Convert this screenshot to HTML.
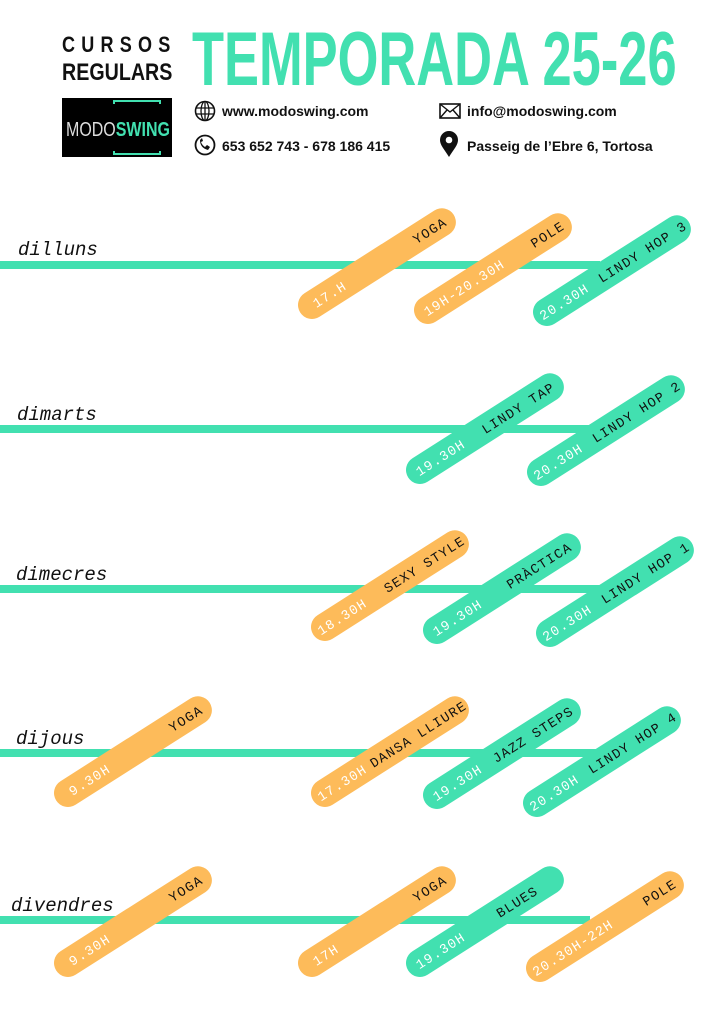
<!DOCTYPE html>
<html><head><meta charset="utf-8"><style>
html,body{margin:0;padding:0;background:#fff;}
svg{display:block;}
</style></head><body>
<svg width="724" height="1024" viewBox="0 0 724 1024" xmlns="http://www.w3.org/2000/svg">
<rect width="724" height="1024" fill="#fff"/>
<!-- header -->
<text x="62" y="52" font-family="Liberation Sans, sans-serif" font-weight="bold" font-size="22" letter-spacing="7.6" fill="#111" transform="translate(62,0) scale(0.82,1) translate(-62,0)">CURSOS</text>
<text x="62" y="80" font-family="Liberation Sans, sans-serif" font-weight="bold" font-size="24" fill="#111" transform="translate(62,0) scale(0.82,1) translate(-62,0)">REGULARS</text>
<text x="192" y="85" font-family="Liberation Sans, sans-serif" font-weight="bold" font-size="76" fill="#42e0b0" transform="translate(192,0) scale(0.69,1) translate(-192,0)">TEMPORADA 25-26</text>
<rect x="62" y="98" width="110" height="59" fill="#000"/>
<path d="M114 104 V101 H160 V104 M114 151 V154 H160 V151" stroke="#42e0b0" stroke-width="2" fill="none"/>
<text x="66" y="136" font-family="Liberation Sans, sans-serif" font-size="20" fill="#ddd" transform="translate(66,0) scale(0.8,1) translate(-66,0)">MODO<tspan fill="#42e0b0" font-weight="bold">SWING</tspan></text>
<!-- icons -->
<circle cx="205" cy="111" r="9.5" fill="none" stroke="#111" stroke-width="1.6"/>
<ellipse cx="205" cy="111" rx="4" ry="9.5" fill="none" stroke="#111" stroke-width="1.3"/>
<path d="M196 108H214M196 114H214M205 101.5V120.5" stroke="#111" stroke-width="1.3"/>
<circle cx="205" cy="145" r="9.5" fill="none" stroke="#111" stroke-width="1.8"/>
<path d="M200 140 q0 8 8 10 l2 -3 l-3 -2 l-2 2 q-3 -2 -4 -5 l2 -1 l-1 -3z" fill="#111"/>
<rect x="440" y="104" width="20" height="14" fill="none" stroke="#111" stroke-width="1.6"/>
<path d="M440 104 L450 112 L460 104 M440 118 L447 110 M460 118 L453 110" stroke="#111" stroke-width="1.4" fill="none"/>
<path d="M449 157 C444 149 440 145 440 140 a9 9 0 0 1 18 0 C458 145 454 149 449 157z" fill="#111"/>
<circle cx="449" cy="140" r="3.3" fill="#fff"/>
<g font-family="Liberation Sans, sans-serif" font-weight="bold" font-size="14" fill="#111">
<text x="222" y="116">www.modoswing.com</text>
<text x="222" y="151">653 652 743 - 678 186 415</text>
<text x="467" y="116">info@modoswing.com</text>
<text x="467" y="151">Passeig de l’Ebre 6, Tortosa</text>
</g>
<!-- lines -->
<g stroke="#42e0b0" stroke-width="8">
<line x1="0" y1="265" x2="600" y2="265"/>
<line x1="0" y1="429" x2="590" y2="429"/>
<line x1="0" y1="589" x2="600" y2="589"/>
<line x1="0" y1="753" x2="600" y2="753"/>
<line x1="0" y1="920" x2="590" y2="920"/>
</g>
<g font-family="Liberation Mono, monospace" font-style="italic" font-size="19" fill="#111">
<text x="18" y="255">dilluns</text>
<text x="17" y="420">dimarts</text>
<text x="16" y="580">dimecres</text>
<text x="16" y="744">dijous</text>
<text x="11" y="911">divendres</text>
</g>
<defs>
<g id="po"><line x1="0" y1="0" x2="154" y2="0" stroke="#fdbb5a" stroke-width="28" stroke-linecap="round"/></g>
<g id="pg"><line x1="0" y1="0" x2="154" y2="0" stroke="#42e0b0" stroke-width="28" stroke-linecap="round"/></g>
</defs>
<g font-family="Liberation Mono, monospace" font-size="13.5" letter-spacing="1.2">
<!-- row1 -->
<g transform="translate(312,305) rotate(-32.5)"><use href="#po"/><text x="2" y="5" fill="#fff">17.H</text><text x="158" y="5" text-anchor="end" fill="#111">YOGA</text></g>
<g transform="translate(428,310) rotate(-32.5)"><use href="#po"/><text x="-4" y="5" fill="#fff">19H-20.30H</text><text x="160" y="5" text-anchor="end" fill="#111">POLE</text></g>
<g transform="translate(547,312) rotate(-32.5)"><use href="#pg"/><text x="-8" y="5" fill="#fff">20.30H</text><text x="164" y="5" text-anchor="end" fill="#111">LINDY HOP 3</text></g>
<!-- row2 -->
<g transform="translate(420,470) rotate(-32.5)"><use href="#pg"/><text x="-4" y="5" fill="#fff">19.30H</text><text x="158" y="5" text-anchor="end" fill="#111">LINDY TAP</text></g>
<g transform="translate(541,472) rotate(-32.5)"><use href="#pg"/><text x="-8" y="5" fill="#fff">20.30H</text><text x="164" y="5" text-anchor="end" fill="#111">LINDY HOP 2</text></g>
<!-- row3 -->
<g transform="translate(325,627) rotate(-32.5)"><use href="#po"/><text x="-8" y="5" fill="#fff">18.30H</text><text x="164" y="5" text-anchor="end" fill="#111">SEXY STYLE</text></g>
<g transform="translate(437,630) rotate(-32.5)"><use href="#pg"/><text x="-4" y="5" fill="#fff">19.30H</text><text x="158" y="5" text-anchor="end" fill="#111">PRÀCTICA</text></g>
<g transform="translate(550,633) rotate(-32.5)"><use href="#pg"/><text x="-8" y="5" fill="#fff">20.30H</text><text x="164" y="5" text-anchor="end" fill="#111">LINDY HOP 1</text></g>
<!-- row4 -->
<g transform="translate(68,793) rotate(-32.5)"><use href="#po"/><text x="2" y="5" fill="#fff">9.30H</text><text x="158" y="5" text-anchor="end" fill="#111">YOGA</text></g>
<g transform="translate(325,793) rotate(-32.5)"><use href="#po"/><text x="-8" y="5" fill="#fff">17.30H</text><text x="166" y="5" text-anchor="end" fill="#111">DANSA LLIURE</text></g>
<g transform="translate(437,795) rotate(-32.5)"><use href="#pg"/><text x="-4" y="5" fill="#fff">19.30H</text><text x="160" y="5" text-anchor="end" fill="#111">JAZZ STEPS</text></g>
<g transform="translate(537,803) rotate(-32.5)"><use href="#pg"/><text x="-8" y="5" fill="#fff">20.30H</text><text x="164" y="5" text-anchor="end" fill="#111">LINDY HOP 4</text></g>
<!-- row5 -->
<g transform="translate(68,963) rotate(-32.5)"><use href="#po"/><text x="2" y="5" fill="#fff">9.30H</text><text x="158" y="5" text-anchor="end" fill="#111">YOGA</text></g>
<g transform="translate(312,963) rotate(-32.5)"><use href="#po"/><text x="2" y="5" fill="#fff">17H</text><text x="158" y="5" text-anchor="end" fill="#111">YOGA</text></g>
<g transform="translate(420,963) rotate(-32.5)"><use href="#pg"/><text x="-4" y="5" fill="#fff">19.30H</text><text x="138" y="5" text-anchor="end" fill="#111">BLUES</text></g>
<g transform="translate(540,968) rotate(-32.5)"><use href="#po"/><text x="-8" y="5" fill="#fff">20.30H-22H</text><text x="160" y="5" text-anchor="end" fill="#111">POLE</text></g>
</g>
</svg>
</body></html>
